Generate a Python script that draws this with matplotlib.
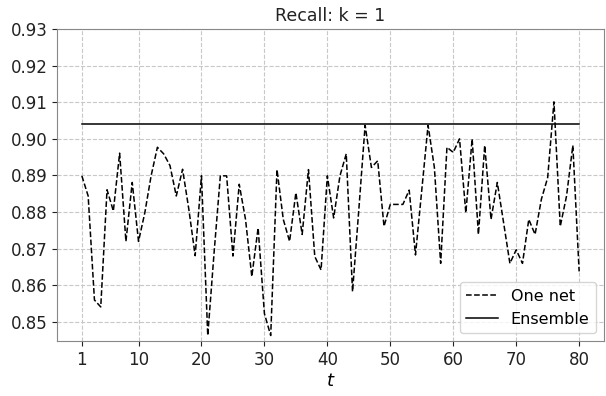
import matplotlib
matplotlib.use("Agg")
import matplotlib.pyplot as plt

# Dữ liệu: recall của một mạng qua 80 lần chạy và của ensemble
t = list(range(1, 81))
one_net = [
    0.8899, 0.8844, 0.8560, 0.8541, 0.8861, 0.8803, 0.8961, 0.8720, 0.8881, 0.8720,
    0.8798, 0.8899, 0.8977, 0.8959, 0.8927, 0.8844, 0.8917, 0.8807, 0.8681, 0.8899,
    0.8463, 0.8688, 0.8899, 0.8899, 0.8680, 0.8876, 0.8780, 0.8624, 0.8757, 0.8523,
    0.8463, 0.8916, 0.8780, 0.8720, 0.8853, 0.8739, 0.8916, 0.8679, 0.8642, 0.8899,
    0.8784, 0.8899, 0.8959, 0.8583, 0.8807, 0.9037, 0.8922, 0.8940, 0.8761, 0.8821,
    0.8821, 0.8821, 0.8860, 0.8683, 0.8860, 0.9037, 0.8922, 0.8660, 0.8977, 0.8963,
    0.9000, 0.8798, 0.9000, 0.8739, 0.8982, 0.8780, 0.8881, 0.8771, 0.8660, 0.8697,
    0.8660, 0.8780, 0.8739, 0.8835, 0.8894, 0.9101, 0.8761, 0.8844, 0.8982, 0.8638,
]
ensemble = 0.9040
xticks = [1, 10, 20, 30, 40, 50, 60, 70, 80]

fig = plt.figure(figsize=(6.06, 3.96), dpi=100)
ax = fig.add_axes([57 / 606, 1 - 341 / 396, 547 / 606, 312 / 396])

ax.plot(t, one_net, "k--", linewidth=1.1, label="One net")
ax.plot(t, [ensemble] * len(t), "k-", linewidth=1.1, label="Ensemble")

ax.set_title("Recall: k = 1", fontsize=12.5, color="#222222")
ax.set_xlabel("$t$", fontsize=13, labelpad=2)
ax.set_xticks(xticks)
ax.set_ylim(0.8448, 0.93)
ax.grid(True, linestyle="--", color="#c8c8c8", linewidth=0.8)
ax.tick_params(labelsize=12, colors="#222222")
for s in ax.spines.values():
    s.set_color("#888888")
ax.legend(loc="lower right", fontsize=11.5)

plt.savefig("out.png", dpi=100)
